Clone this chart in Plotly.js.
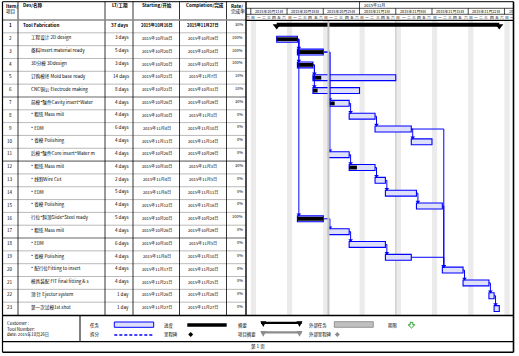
<!DOCTYPE html>
<html><head><meta charset="utf-8">
<script src="https://cdn.plot.ly/plotly-3.0.1.min.js"></script>
<style>html,body{margin:0;padding:0;background:#fff}#c{width:519px;height:356px}</style>
</head><body><div id="c"></div><script>
// ---------------- data ----------------
const taskIds = [1,2,3,4,5,6,7,8,9,10,11,12,13,14,15,16,17,18,19,20,21,22,23];
const taskNames = [
 'Tool Fabrication','工程设计 2D design','备料Insert material ready','3D分模 3Ddesign',
 '订购模坯 Mold base ready','CNC铜公 Electrode making','前模*镶件Cavity insert*Water',
 '* 粗铣 Mass mill','* EDM','* 省模 Polishing','后模*镶件Core insert*Water m',
 '* 粗铣 Mass mill','* 线割Wire Cut','* EDM','* 省模 Polishing','行位*斜顶Slide*Steel ready',
 '* 粗铣 Mass mill','* EDM','* 省模 Polishing','* 配行位Fitting to insert',
 '模具装配 FIT final fitting & s','顶 针 Ejector system','第一次试模1st shot'];
const leadTimes = ['37 days','3 days','5 days','3 days','14 days','8 days','4 days','4 days','6 days','4 days',
 '4 days','4 days','2 days','5 days','4 days','5 days','4 days','6 days','4 days','4 days','4 days','1 day','1 day'];
const startDates = ['2015-10-16','2015-10-16','2015-10-20','2015-10-20','2015-10-23','2015-10-23','2015-10-26',
 '2015-10-30','2015-11-04','2015-11-11','2015-10-26','2015-10-30','2015-11-04','2015-11-06','2015-11-12',
 '2015-10-20','2015-10-26','2015-10-30','2015-11-06','2015-11-17','2015-11-21','2015-11-26','2015-11-27'];
const finishDates = ['2015-11-27','2015-10-19','2015-10-24','2015-10-22','2015-11-07','2015-10-31','2015-10-29',
 '2015-11-03','2015-11-10','2015-11-14','2015-10-29','2015-11-03','2015-11-05','2015-11-11','2015-11-16',
 '2015-10-24','2015-10-29','2015-11-05','2015-11-10','2015-11-20','2015-11-25','2015-11-26','2015-11-27'];
const rates = [30,100,100,100,10,10,30,0,0,0,0,30,0,0,0,100,0,0,0,0,0,0,0];
const links = [[2,3],[2,4],[2,16],[4,5],[4,6],[3,7],[3,11],[16,17],[7,8],[8,9],[9,10],[9,20],
 [11,12],[12,13],[13,14],[14,15],[15,20],[17,18],[18,19],[19,20],[20,21],[21,22],[22,23]];
const weekdayLabels = ['日','一','二','三','四','五','六'];
const timelineStart = '2015-10-11';   // first Sunday shown
const currentDate = '2015-10-26';
const statusDate = '2015-11-08';
const pageBreakRows = [7, 12, 18];
const headerLabels = ['Des/名称','LT/工期','Starting/开始','Completion/完成'];
const legendTexts = ['任务','进度','摘要','外部任务','期限','拆分','里程碑','项目摘要','外部里程碑'];
const infoTexts = ['Customer :','Tool Number:','date: 2015年10月26日'];
const footerText = '第 1 页';

// ---------------- helpers ----------------
const W = 519, H = 356, DAY = 86400000;
const px = x => x / W, py = y => 1 - y / H;
const ms = s => { const [a,b,c] = s.split('-').map(Number); return Date.UTC(a, b-1, c); };
const ds = m => new Date(m).toISOString().replace('T',' ').slice(0,19);
const cn = s => { const [a,b,c] = s.split('-').map(Number); return a + '年' + b + '月' + c + '日'; };
const FONT = '"Noto Sans CJK SC", "DejaVu Sans", sans-serif';
const origin = ms(timelineStart);
const xStart = origin - 0.93 * DAY, xEnd = origin + 50.65 * DAY;
const PXDAY = (513 - 246) / ((xEnd - xStart) / DAY);
const ROWTOP = 20, ROWBOT = 315, NR = taskIds.length;

const traces = [];
// Task bars (non summary)
const tIdx = taskIds.map((_, i) => i).filter(i => i > 0);
traces.push({
  type: 'bar', orientation: 'h', hoverinfo: 'skip',
  y: tIdx.map(i => taskIds[i]),
  base: tIdx.map(i => startDates[i]),
  x: tIdx.map(i => ms(finishDates[i]) + DAY - ms(startDates[i])),
  width: 0.46,
  marker: {color: '#dedff9', line: {color: '#0000ff', width: 1.1}}
});
// progress bars
const pIdx = tIdx.filter(i => rates[i] > 0);
traces.push({
  type: 'bar', orientation: 'h', hoverinfo: 'skip',
  y: pIdx.map(i => taskIds[i]),
  base: pIdx.map(i => startDates[i]),
  x: pIdx.map(i => (ms(finishDates[i]) + DAY - ms(startDates[i])) * rates[i] / 100),
  width: 0.3,
  marker: {color: '#000', line: {width: 0}}
});
// summary bar
traces.push({
  type: 'bar', orientation: 'h', hoverinfo: 'skip',
  y: [taskIds[0] - 0.13], base: [startDates[0]],
  x: [ms(finishDates[0]) + DAY - ms(startDates[0])],
  width: 0.31, marker: {color: '#000', line: {width: 0}}
});
traces.push({
  type: 'scatter', mode: 'markers', hoverinfo: 'skip',
  x: [ds(ms(startDates[0])), ds(ms(finishDates[0]) + DAY)], y: [taskIds[0] - 0.03, taskIds[0] - 0.03],
  marker: {symbol: 'triangle-down', size: 7, color: '#000'}
});
// links
const lx = [], ly = [], ax = [], ay = [];
links.forEach(([p, s]) => {
  const pi = taskIds.indexOf(p), si = taskIds.indexOf(s);
  const pe = ms(finishDates[pi]) + DAY;
  const sx = ms(startDates[si]) + 0.28 * DAY;
  lx.push(ds(pe), ds(sx), ds(sx), null);
  ly.push(p, p, s - 0.3, null);
  ax.push(ds(sx)); ay.push(s - 0.33);
});
traces.push({type: 'scatter', mode: 'lines', hoverinfo: 'skip', x: lx, y: ly,
  line: {color: '#0000ff', width: 1}, connectgaps: false});
traces.push({type: 'scatter', mode: 'markers', hoverinfo: 'skip', x: ax, y: ay,
  marker: {symbol: 'triangle-down', size: 4, color: '#0000ff'}});

// ---------------- shapes ----------------
const shapes = [];
const L = (x0, y0, x1, y1, color, width, extra) => shapes.push(Object.assign({type: 'line', xref: 'paper', yref: 'paper',
  x0: px(x0), y0: py(y0), x1: px(x1), y1: py(y1), line: {color, width}}, extra || {}));
const R = (x0, y0, x1, y1, fill, lc, lw) => shapes.push({type: 'rect', xref: 'paper', yref: 'paper',
  x0: px(x0), y0: py(y0), x1: px(x1), y1: py(y1), fillcolor: fill, line: {color: lc || fill, width: lw || 0}});
const P = (pts, fill, lc, lw) => shapes.push({type: 'path', xref: 'paper', yref: 'paper',
  path: 'M' + pts.map(p => px(p[0]) + ',' + py(p[1])).join(' L') + ' Z', fillcolor: fill, line: {color: lc || fill, width: lw || 0}});

// Sunday shading
for (let d = origin; d < xEnd; d += 7 * DAY) {
  shapes.push({type: 'rect', xref: 'x', yref: 'paper', x0: ds(d), x1: ds(d + DAY), y0: py(ROWBOT), y1: py(ROWTOP),
    fillcolor: '#ebebeb', line: {width: 0}, layer: 'below'});
}
shapes.push({type: 'line', xref: 'x', yref: 'paper', x0: ds(ms(statusDate)), x1: ds(ms(statusDate)),
  y0: py(ROWBOT), y1: py(ROWTOP), line: {color: '#d2d2d2', width: 1.5}, layer: 'below'});
shapes.push({type: 'line', xref: 'x', yref: 'paper', x0: ds(ms(currentDate)), x1: ds(ms(currentDate)),
  y0: py(ROWBOT), y1: py(ROWTOP), line: {color: '#c4c4c4', width: 2}, layer: 'above'});

// table grid
const rowH = (ROWBOT - ROWTOP) / NR;
for (let i = 1; i < NR; i++) {
  const thick = pageBreakRows.includes(i + 1);
  L(2.5, ROWTOP + i * rowH, 246, ROWTOP + i * rowH, thick ? '#9a9a9a' : '#a8a8a8', thick ? 1.6 : 0.8);
}
[18, 105, 133, 179.5, 226.5].forEach(x => L(x, 1.7, x, ROWBOT, '#000', 0.8));
L(2.5, ROWTOP, 246, ROWTOP, '#8a8a8a', 1.6);
L(246, ROWTOP + 0.3, 513.5, ROWTOP + 0.3, '#000', 1.2);
L(2.5, 1.7, 513.5, 1.7, '#000', 1);
L(2.5, 1.7, 2.5, 352.3, '#000', 1.2);
L(513.5, 1.7, 513.5, 352.3, '#000', 1.6);
L(246, 1.7, 246, ROWBOT, '#000', 1.4);
L(2.5, ROWBOT + 0.5, 513.5, ROWBOT + 0.5, '#000', 1.6);
L(80, ROWBOT, 80, 341.7, '#000', 1);
L(2.5, 341.7, 513.5, 341.7, '#000', 1.2);
L(2.5, 352.3, 513.5, 352.3, '#000', 1.4);
// timescale header lines
L(246, 8.3, 513.5, 8.3, '#000', 0.7);
L(246, 14.3, 513.5, 14.3, '#000', 0.7);
const monthStarts = [];
for (let d = origin; d < xEnd; d += DAY) { const dt = new Date(d); if (dt.getUTCDate() === 1) monthStarts.push(d); }
monthStarts.forEach(d => shapes.push({type: 'line', xref: 'x', yref: 'paper', x0: ds(d), x1: ds(d), y0: py(1.7), y1: py(8.3), line: {color: '#000', width: 0.7}}));
for (let d = origin; d < xEnd; d += 7 * DAY) {
  shapes.push({type: 'line', xref: 'x', yref: 'paper', x0: ds(d), x1: ds(d), y0: py(8.3), y1: py(14.3), line: {color: '#000', width: 0.7}});
}

// legend symbols
R(114.3, 322, 153.7, 327.3, '#dedff9', '#0000ff', 1);
R(187.3, 323.3, 226.7, 326.7, '#000');
R(261, 321.7, 301.7, 324, '#000');
P([[260.3, 321.3], [266.3, 321.3], [263.3, 327]], '#000');
P([[296.5, 321.3], [302.5, 321.3], [299.5, 327]], '#000');
R(334.3, 321.7, 373.3, 327.3, '#c0c0c0', '#808080', 0.8);
P([[410.2, 322.3], [412.8, 322.3], [412.8, 324.8], [414.8, 324.8], [411.5, 328], [408.2, 324.8], [410.2, 324.8]], '#fff', '#2e9e2e', 1);
L(114.3, 335, 153.7, 335, '#0000ff', 1.5, {line: {color: '#0000ff', width: 1.5, dash: '3px,2px'}});
P([[190.7, 332], [193.2, 334.5], [190.7, 337], [188.2, 334.5]], '#000');
R(261, 331.2, 301.7, 333.5, '#8c8c8c');
P([[260.3, 331], [266.3, 331], [263.3, 336.7]], '#8c8c8c');
P([[296.5, 331], [302.5, 331], [299.5, 336.7]], '#8c8c8c');
P([[337.3, 332], [339.8, 334.5], [337.3, 337], [334.8, 334.5]], '#8c8c8c');

// ---------------- annotations ----------------
const ann = [];
const T = (text, x, y, anchor, size, opts) => ann.push(Object.assign({text, xref: 'paper', yref: 'paper', x: px(x), y: py(y),
  xanchor: anchor || 'left', yanchor: 'middle', showarrow: false, font: {family: FONT, size: size || 4.6, color: '#000'}}, opts || {}));
const BF = {family: FONT, size: 4.6, color: '#000', weight: 'bold'};
// header
T('Item/', 4, 5.5, 'left', 4.6, {font: BF});
T('项目', 4, 11, 'left', 4.6);
T(headerLabels[0], 21, 5.5, 'left', 4.6, {font: BF});
T(headerLabels[1], 110, 5.5, 'left', 4.6, {font: BF});
T(headerLabels[2], 140, 5.5, 'left', 4.6, {font: BF});
T(headerLabels[3], 184, 5.5, 'left', 4.6, {font: BF});
T('Rate/', 229, 5.5, 'left', 4.6, {font: BF});
T('完成率', 229, 11, 'left', 4.6);
// rows
taskIds.forEach((id, i) => {
  const f = {family: FONT, size: 4.6, color: '#000', weight: i === 0 ? 'bold' : 'normal'};
  const fd = {family: FONT, size: 4.1, color: '#000', weight: i === 0 ? 'bold' : 'normal'};
  const base = {xref: 'paper', yref: 'y', y: id - 0.1, yanchor: 'middle', showarrow: false};
  ann.push(Object.assign({}, base, {text: String(id), x: px(10), xanchor: 'center', font: f}));
  ann.push(Object.assign({}, base, {text: taskNames[i], x: px(i === 0 ? 21 : 29), xanchor: 'left', font: f}));
  ann.push(Object.assign({}, base, {text: leadTimes[i], x: px(130.5), xanchor: 'right', font: f}));
  ann.push(Object.assign({}, base, {text: cn(startDates[i]), x: px(156.5), xanchor: 'center', font: fd}));
  ann.push(Object.assign({}, base, {text: cn(finishDates[i]), x: px(202.5), xanchor: 'center', font: fd}));
  ann.push(Object.assign({}, base, {text: rates[i] + '%', x: px(244.5), xanchor: 'right', y: id - 0.2, font: {family: FONT, size: 4, color: '#000'}}));
});
// timescale labels
monthStarts.forEach(d => {
  const dt = new Date(d);
  ann.push({text: dt.getUTCFullYear() + '年' + (dt.getUTCMonth() + 1) + '月', xref: 'x', yref: 'paper', x: ds(d + 0.4 * DAY), y: py(5),
    xanchor: 'left', yanchor: 'middle', showarrow: false, font: {family: FONT, size: 4, color: '#000'}});
});
for (let d = origin; d < xEnd; d += 7 * DAY) {
  let lab = cn(ds(d).slice(0, 10));
  const avail = (xEnd - d) / DAY * PXDAY - 2;
  if (avail < 30) lab = lab.slice(0, Math.max(0, Math.floor(avail / 2.3)));
  ann.push({text: lab, xref: 'x', yref: 'paper', x: ds(d + 0.4 * DAY), y: py(11.3),
    xanchor: 'left', yanchor: 'middle', showarrow: false, font: {family: FONT, size: 3.8, color: '#000'}});
}
for (let d = origin - DAY; d < xEnd; d += DAY) {
  if (d + 0.5 * DAY < xStart || d + 0.5 * DAY > xEnd) continue;
  ann.push({text: weekdayLabels[new Date(d).getUTCDay()], xref: 'x', yref: 'paper', x: ds(d + 0.5 * DAY), y: py(17.3),
    xanchor: 'center', yanchor: 'middle', showarrow: false, font: {family: FONT, size: 3.8, color: '#000'}});
}
// legend texts
T(infoTexts[0], 5, 323.3, 'left', 4.4);
T(infoTexts[1], 5, 328.5, 'left', 4.4);
T(infoTexts[2], 5, 334.7, 'left', 4.2);
const lpos = [[88, 325], [161.5, 325], [236, 325], [307, 325], [385.5, 325], [88, 334.6], [161.5, 334.6], [236, 334.6], [307, 334.6]];
legendTexts.forEach((t, i) => T(t, lpos[i][0], lpos[i][1], 'left', 4.4));
T(footerText, 258.3, 346.5, 'center', 4.6);

const layout = {
  width: W, height: H, autosize: false, margin: {l: 0, r: 0, t: 0, b: 0, pad: 0},
  paper_bgcolor: '#fff', plot_bgcolor: '#fff', showlegend: false, barmode: 'overlay',
  xaxis: {type: 'date', domain: [px(246), px(513)], range: [ds(xStart), ds(xEnd)], showgrid: false, zeroline: false,
    showticklabels: false, ticks: '', showline: false, fixedrange: true},
  yaxis: {domain: [py(ROWBOT), py(ROWTOP)], range: [NR + 0.5, 0.5], showgrid: false, zeroline: false,
    showticklabels: false, ticks: '', showline: false, fixedrange: true},
  shapes, annotations: ann
};
Plotly.newPlot('c', traces, layout, {staticPlot: true, displayModeBar: false});
</script></body></html>
